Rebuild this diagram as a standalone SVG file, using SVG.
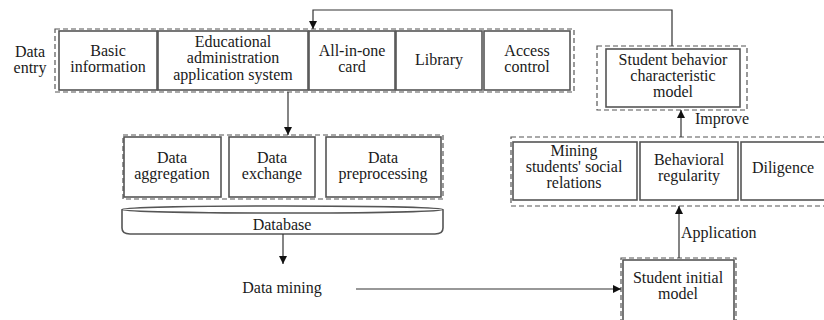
<svg xmlns="http://www.w3.org/2000/svg" width="824" height="320" viewBox="0 0 824 320">
<defs>
<style>
.box{fill:#fff;stroke:#555;stroke-width:1.6}
.grp{fill:none;stroke:#555;stroke-width:1.2;stroke-dasharray:5 3}
.ln{fill:none;stroke:#333;stroke-width:1.2}
</style>
<marker id="ah" viewBox="0 0 10 10" refX="10" refY="5" markerWidth="8" markerHeight="8" markerUnits="userSpaceOnUse" orient="auto">
<path d="M0,0 L10,5 L0,10 z" fill="#111"/>
</marker>
</defs>
<rect width="824" height="320" fill="#fff"/>

<g id="groups">
<rect class="grp" x="55" y="29" width="519" height="63"/>
<rect class="grp" x="123" y="135" width="320" height="64"/>
<rect class="grp" x="597" y="46" width="150" height="64"/>
<rect class="grp" x="511" y="137" width="320" height="69"/>
<rect class="grp" x="621" y="258" width="115" height="70"/>
</g>

<g id="data-entry-label">
<text style="font-family:'Liberation Serif','Times New Roman',serif;font-size:16px;fill:#1a1a1a;text-anchor:middle" x="30" y="57">Data</text>
<text style="font-family:'Liberation Serif','Times New Roman',serif;font-size:16px;fill:#1a1a1a;text-anchor:middle" x="30" y="73">entry</text>
</g>

<g id="basic-info">
<rect class="box" x="59" y="31" width="98" height="59"/>
<text style="font-family:'Liberation Serif','Times New Roman',serif;font-size:16px;fill:#1a1a1a;text-anchor:middle" x="108" y="56">Basic</text>
<text style="font-family:'Liberation Serif','Times New Roman',serif;font-size:16px;fill:#1a1a1a;text-anchor:middle" x="108" y="72">information</text>
</g>
<g id="edu-admin">
<rect class="box" x="158" y="31" width="150" height="59"/>
<text style="font-family:'Liberation Serif','Times New Roman',serif;font-size:16px;fill:#1a1a1a;text-anchor:middle" x="233" y="47">Educational</text>
<text style="font-family:'Liberation Serif','Times New Roman',serif;font-size:16px;fill:#1a1a1a;text-anchor:middle" x="233" y="63">administration</text>
<text style="font-family:'Liberation Serif','Times New Roman',serif;font-size:16px;fill:#1a1a1a;text-anchor:middle" x="233" y="80">application system</text>
</g>
<g id="all-in-one">
<rect class="box" x="309" y="31" width="86" height="59"/>
<text style="font-family:'Liberation Serif','Times New Roman',serif;font-size:16px;fill:#1a1a1a;text-anchor:middle" x="352" y="56">All-in-one</text>
<text style="font-family:'Liberation Serif','Times New Roman',serif;font-size:16px;fill:#1a1a1a;text-anchor:middle" x="352" y="72">card</text>
</g>
<g id="library">
<rect class="box" x="396" y="31" width="86" height="59"/>
<text style="font-family:'Liberation Serif','Times New Roman',serif;font-size:16px;fill:#1a1a1a;text-anchor:middle" x="439" y="65">Library</text>
</g>
<g id="access-control">
<rect class="box" x="484" y="31" width="86" height="59"/>
<text style="font-family:'Liberation Serif','Times New Roman',serif;font-size:16px;fill:#1a1a1a;text-anchor:middle" x="527" y="56">Access</text>
<text style="font-family:'Liberation Serif','Times New Roman',serif;font-size:16px;fill:#1a1a1a;text-anchor:middle" x="527" y="72">control</text>
</g>

<g id="data-aggregation">
<rect class="box" x="124" y="137" width="97" height="60"/>
<text style="font-family:'Liberation Serif','Times New Roman',serif;font-size:16px;fill:#1a1a1a;text-anchor:middle" x="172" y="163">Data</text>
<text style="font-family:'Liberation Serif','Times New Roman',serif;font-size:16px;fill:#1a1a1a;text-anchor:middle" x="172" y="179">aggregation</text>
</g>
<g id="data-exchange">
<rect class="box" x="229" y="137" width="86" height="60"/>
<text style="font-family:'Liberation Serif','Times New Roman',serif;font-size:16px;fill:#1a1a1a;text-anchor:middle" x="272" y="163">Data</text>
<text style="font-family:'Liberation Serif','Times New Roman',serif;font-size:16px;fill:#1a1a1a;text-anchor:middle" x="272" y="179">exchange</text>
</g>
<g id="data-preprocessing">
<rect class="box" x="326" y="137" width="115" height="60"/>
<text style="font-family:'Liberation Serif','Times New Roman',serif;font-size:16px;fill:#1a1a1a;text-anchor:middle" x="383" y="163">Data</text>
<text style="font-family:'Liberation Serif','Times New Roman',serif;font-size:16px;fill:#1a1a1a;text-anchor:middle" x="383" y="179">preprocessing</text>
</g>

<g id="database">
<path class="box" d="M122,209.5 V228 Q122,234 130,234 H435 Q443,234 443,228 V209.5"/>
<ellipse class="box" cx="282.5" cy="209.5" rx="160.5" ry="3.5"/>
<text style="font-family:'Liberation Serif','Times New Roman',serif;font-size:16px;fill:#1a1a1a;text-anchor:middle" x="282" y="230">Database</text>
</g>

<g id="data-mining">
<text style="font-family:'Liberation Serif','Times New Roman',serif;font-size:16px;fill:#1a1a1a;text-anchor:middle" x="282" y="293">Data mining</text>
</g>

<g id="student-behavior-model">
<rect class="box" x="606" y="49" width="134" height="58"/>
<text style="font-family:'Liberation Serif','Times New Roman',serif;font-size:16px;fill:#1a1a1a;text-anchor:middle" x="673" y="65">Student behavior</text>
<text style="font-family:'Liberation Serif','Times New Roman',serif;font-size:16px;fill:#1a1a1a;text-anchor:middle" x="673" y="81">characteristic</text>
<text style="font-family:'Liberation Serif','Times New Roman',serif;font-size:16px;fill:#1a1a1a;text-anchor:middle" x="673" y="97">model</text>
</g>

<g id="mining-social">
<rect class="box" x="513" y="142" width="124" height="58"/>
<text style="font-family:'Liberation Serif','Times New Roman',serif;font-size:16px;fill:#1a1a1a;text-anchor:middle" x="574" y="156">Mining</text>
<text style="font-family:'Liberation Serif','Times New Roman',serif;font-size:16px;fill:#1a1a1a;text-anchor:middle" x="574" y="172">students' social</text>
<text style="font-family:'Liberation Serif','Times New Roman',serif;font-size:16px;fill:#1a1a1a;text-anchor:middle" x="574" y="188">relations</text>
</g>
<g id="behavioral-regularity">
<rect class="box" x="640" y="142" width="98" height="58"/>
<text style="font-family:'Liberation Serif','Times New Roman',serif;font-size:16px;fill:#1a1a1a;text-anchor:middle" x="689" y="165">Behavioral</text>
<text style="font-family:'Liberation Serif','Times New Roman',serif;font-size:16px;fill:#1a1a1a;text-anchor:middle" x="689" y="181">regularity</text>
</g>
<g id="diligence">
<rect class="box" x="741" y="142" width="86" height="58"/>
<text style="font-family:'Liberation Serif','Times New Roman',serif;font-size:16px;fill:#1a1a1a;text-anchor:middle" x="783" y="173">Diligence</text>
</g>

<g id="student-initial-model">
<rect class="box" x="623" y="260" width="111" height="66"/>
<text style="font-family:'Liberation Serif','Times New Roman',serif;font-size:16px;fill:#1a1a1a;text-anchor:middle" x="678" y="283">Student initial</text>
<text style="font-family:'Liberation Serif','Times New Roman',serif;font-size:16px;fill:#1a1a1a;text-anchor:middle" x="678" y="299">model</text>
</g>

<g id="connectors">
<path class="ln" d="M672,46 V10 H313 V29" marker-end="url(#ah)"/>
<path class="ln" d="M288,92 V135" marker-end="url(#ah)"/>
<path class="ln" d="M283,234 V264" marker-end="url(#ah)"/>
<path class="ln" d="M356,289 H621" marker-end="url(#ah)"/>
<path class="ln" d="M679,258 V206" marker-end="url(#ah)"/>
<path class="ln" d="M681,137 V110" marker-end="url(#ah)"/>
<text style="font-family:'Liberation Serif','Times New Roman',serif;font-size:16px;fill:#1a1a1a" x="695" y="124">Improve</text>
<text style="font-family:'Liberation Serif','Times New Roman',serif;font-size:16px;fill:#1a1a1a" x="681" y="238">Application</text>
</g>
</svg>
